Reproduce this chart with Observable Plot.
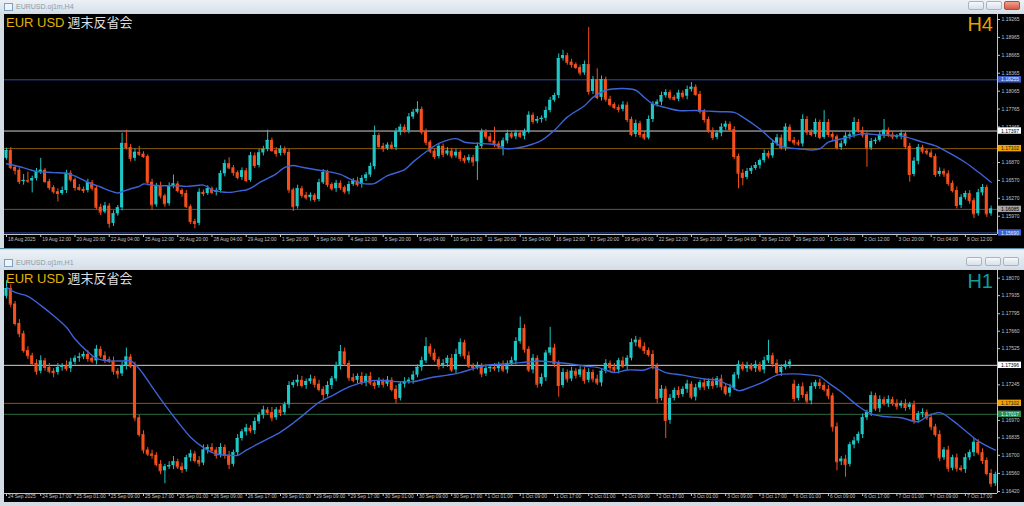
<!DOCTYPE html>
<html><head><meta charset="utf-8">
<script src="https://cdn.jsdelivr.net/npm/d3@7"></script>
<script src="https://cdn.jsdelivr.net/npm/@observablehq/plot@0.6"></script>
<style>
html,body{margin:0;padding:0;width:1024px;height:506px;overflow:hidden;background:#d3dbe4;font-family:"Liberation Sans",Arial,sans-serif;}
.tbar{position:absolute;left:0;width:1024px;background:linear-gradient(#ecf1f6,#d6dfe9);}
.ttl{position:absolute;left:16px;font-size:7px;line-height:8px;color:#8e9aa8;}
.icon{position:absolute;left:4px;width:7px;height:6px;border:1px solid #7f9fbf;background:#eef4fb;}
.btn{position:absolute;width:16px;height:9px;border:1px solid #a7b4c2;border-radius:2px;background:linear-gradient(#f6f8fb,#d8e0e9);box-sizing:border-box;}
.chart{position:absolute;left:4px;width:1020px;background:#000;}
.sep{position:absolute;left:0;width:1024px;height:1px;background:#5d8a9e;}
.hdr{position:absolute;left:6px;white-space:nowrap;line-height:13px;}
.eu{font-size:13px;color:#e3b20a;font-family:"Liberation Sans",Arial,sans-serif;}
.jp{font-size:13px;color:#dcdcdc;font-family:"Noto Sans CJK JP",sans-serif;margin-left:3px;}
.tf{position:absolute;font-size:20px;line-height:20px;font-family:"Liberation Sans",Arial,sans-serif;}
</style></head>
<body>
<div class="tbar" style="top:0;height:13px">
  <div class="icon" style="top:3px"></div><span class="ttl" style="top:3px">EURUSD.oj1m,H4</span>
  <div class="btn" style="left:968px;top:1px"></div>
  <div class="btn" style="left:986px;top:1px"></div>
  <div class="btn" style="left:1004px;top:1px;background:linear-gradient(#f0a090,#d45a44);border-color:#b04a3a"></div>
</div>
<div id="top" class="chart" style="top:14px;height:234px"></div>
<div class="sep" style="top:248px"></div>
<div class="tbar" style="top:250px;height:19px">
  <div class="icon" style="top:9px"></div><span class="ttl" style="top:9px">EURUSD.oj1m,H1</span>
  <div class="btn" style="left:966px;top:7px"></div>
  <div class="btn" style="left:985px;top:7px"></div>
  <div class="btn" style="left:1003px;top:7px"></div>
</div>
<div id="bot" class="chart" style="top:270px;height:232px"></div>
<div class="hdr" style="top:15px"><span class="eu">EUR USD</span><span class="jp">週末反省会</span></div>
<div class="hdr" style="top:271px"><span class="eu">EUR USD</span><span class="jp">週末反省会</span></div>
<div class="tf" style="top:14px;right:31px;color:#e89f00">H4</div>
<div class="tf" style="top:271px;right:31px;color:#139c9c">H1</div>
<script>
// ---------- H4 panel data ----------
const h4FirstOpen = 1.1694;
const h4Close = [
 1.1707,1.1679,1.1674,1.1655,1.1657,1.1656,1.1660,1.1672,1.1674,1.1655,
 1.1645,1.1638,1.1635,1.1640,1.1669,1.1658,1.1645,1.1642,1.1640,1.1653,
 1.1644,1.1612,1.1604,1.1614,1.1585,1.1601,1.1611,1.1719,1.1712,1.1694,
 1.1704,1.1701,1.1697,1.1654,1.1616,1.1648,1.1631,1.1618,1.1648,1.1651,
 1.1640,1.1635,1.1613,1.1588,1.1585,1.1637,1.1635,1.1643,1.1637,1.1640,
 1.1668,1.1685,1.1678,1.1670,1.1662,1.1673,1.1657,1.1698,1.1682,1.1703,
 1.1709,1.1724,1.1707,1.1702,1.1709,1.1704,1.1641,1.1613,1.1643,1.1632,
 1.1628,1.1632,1.1625,1.1653,1.1670,1.1650,1.1643,1.1652,1.1645,1.1638,
 1.1650,1.1656,1.1650,1.1660,1.1666,1.1680,1.1732,1.1714,1.1710,1.1716,
 1.1712,1.1738,1.1746,1.1740,1.1763,1.1771,1.1776,1.1738,1.1721,1.1706,
 1.1697,1.1714,1.1701,1.1706,1.1698,1.1704,1.1694,1.1690,1.1695,1.1688,
 1.1714,1.1738,1.1730,1.1723,1.1718,1.1713,1.1723,1.1735,1.1730,1.1736,
 1.1731,1.1738,1.1766,1.1756,1.1759,1.1761,1.1774,1.1791,1.1799,1.1861,
 1.1866,1.1855,1.1851,1.1846,1.1837,1.1851,1.1806,1.1826,1.1796,1.1826,
 1.1793,1.1784,1.1779,1.1776,1.1783,1.1759,1.1734,1.1752,1.1734,1.1728,
 1.1759,1.1784,1.1788,1.1799,1.1804,1.1796,1.1793,1.1803,1.1798,1.1809,
 1.1813,1.1801,1.1773,1.1759,1.1740,1.1729,1.1736,1.1746,1.1751,1.1742,
 1.1697,1.1669,1.1662,1.1672,1.1677,1.1682,1.1690,1.1702,1.1698,1.1719,
 1.1728,1.1712,1.1746,1.1724,1.1720,1.1718,1.1759,1.1738,1.1734,1.1754,
 1.1729,1.1754,1.1734,1.1730,1.1712,1.1718,1.1731,1.1733,1.1754,1.1740,
 1.1733,1.1711,1.1722,1.1724,1.1733,1.1741,1.1733,1.1730,1.1731,1.1735,
 1.1714,1.1667,1.1689,1.1712,1.1706,1.1703,1.1697,1.1667,1.1672,1.1668,
 1.1652,1.1640,1.1615,1.1628,1.1635,1.1623,1.1601,1.1636,1.1645,1.1601,
 1.1609];
// upper / lower wick lengths beyond the body, in pips
const h4WickUp = [
 4,5,3,4,10,14,4,5,20,3, 4,3,5,6,5,4,3,5,4,6, 4,3,5,6,4,5,4,17,22,5,
 6,10,4,3,5,4,6,3,5,15, 4,3,5,3,4,6,4,5,3,4, 5,6,10,4,3,5,4,6,5,6,
 5,17,4,5,6,4,5,3,6,4, 5,4,3,6,5,4,3,5,4,3, 5,4,6,5,4,6,16,4,5,4,
 5,6,5,4,6,5,13,4,5,3, 4,5,4,6,4,5,3,4,5,4, 6,5,4,6,23,4,5,6,4,5,
 4,5,6,4,5,4,6,5,4,8, 9,4,5,3,4,6,62,5,18,6, 4,5,3,4,6,5,4,6,4,5,
 6,5,4,6,5,4,3,5,4,6, 8,4,5,3,4,5,4,6,5,4, 5,4,6,5,4,5,3,6,4,5,
 6,5,6,4,5,4,8,5,4,6, 4,20,5,4,3,5,6,4,8,5, 6,4,5,4,6,18,4,5,3,6,
 4,5,6,5,4,3,5,4,6,4, 5,4,6,5,4,5,4,6,5,4, 5];
const h4WickDown = [
 3,4,8,5,6,4,20,4,5,3, 5,4,14,3,5,4,6,3,5,4, 5,4,6,3,8,5,4,5,4,6,
 5,4,3,6,9,4,5,6,4,5, 4,6,3,5,9,4,5,3,4,6, 4,5,3,6,4,5,4,3,5,4,
 5,4,3,6,4,5,6,8,4,5, 4,6,5,4,3,5,4,6,5,4, 5,3,4,6,5,4,5,4,6,3,
 4,5,6,4,5,4,3,5,6,4, 5,4,6,3,5,4,6,5,4,8, 31,4,5,3,6,4,15,5,4,5,
 4,6,3,5,4,6,5,4,3,5, 4,5,6,3,5,4,6,5,4,6, 5,4,3,6,4,5,4,5,6,4,
 3,5,4,6,4,5,3,4,5,6, 4,3,5,6,4,5,4,6,5,4, 5,26,14,4,5,3,6,4,5,4,
 5,4,6,3,5,4,5,6,4,5, 4,3,5,6,4,5,4,6,5,4, 5,32,4,5,3,6,4,5,4,6,
 5,13,4,6,5,4,3,5,4,6, 5,4,6,5,4,6,8,4,5,6, 4];
// moving average line: [bar, price]
const h4MA = [[0,1.1685],[2,1.1682],[5,1.1676],[7,1.1672],[9,1.1671],[11,1.1670],[14,1.1669],[15,1.1667],[17,1.1661],[20,1.1651],[22,1.1646],[24,1.1640],[26,1.1636],[27,1.1638],[29,1.1643],[31,1.1647],[32,1.1651],[34,1.1649],[36,1.1648],[38,1.1648],[40,1.1648],[42,1.1647],[45,1.1649],[46,1.1649],[47,1.1646],[48,1.1641],[50,1.1638],[52,1.1637],[55,1.1640],[56,1.1641],[58,1.1648],[59,1.1653],[63,1.1668],[65,1.1679],[67,1.1682],[69,1.1679],[73,1.1674],[75,1.1672],[78,1.1667],[80,1.1660],[83,1.1652],[85,1.1651],[86,1.1652],[89,1.1665],[93,1.1675],[95,1.1688],[99,1.1710],[101,1.1719],[105,1.1727],[107,1.1721],[110,1.1719],[113,1.1718],[115,1.1715],[116,1.1711],[119,1.1711],[123,1.1718],[125,1.1724],[128,1.1741],[131,1.1763],[135,1.1782],[137,1.1796],[140,1.1808],[144,1.1811],[147,1.1808],[149,1.1796],[151,1.1785],[154,1.1779],[157,1.1774],[161,1.1774],[164,1.1773],[167,1.1772],[170,1.1771],[172,1.1763],[176,1.1743],[179,1.1724],[181,1.1714],[185,1.1710],[188,1.1708],[190,1.1710],[192,1.1721],[196,1.1728],[200,1.1735],[204,1.1733],[208,1.1732],[210,1.1730],[214,1.1721],[217,1.1715],[220,1.1704],[224,1.1687],[227,1.1671],[230,1.1654]];
const h4PriceTicks = [1.19265,1.18965,1.18665,1.18365,1.18065,1.17765,1.17465,1.16870,1.16570,1.16270,1.15970];
const h4TimeLabels = ["18 Aug 2025","19 Aug 12:00","20 Aug 20:00","22 Aug 04:00","25 Aug 12:00","26 Aug 20:00","28 Aug 04:00","29 Aug 12:00","1 Sep 20:00","3 Sep 04:00","4 Sep 12:00","5 Sep 20:00","9 Sep 04:00","10 Sep 12:00","11 Sep 20:00","15 Sep 04:00","16 Sep 12:00","17 Sep 20:00","19 Sep 04:00","22 Sep 12:00","23 Sep 20:00","25 Sep 04:00","26 Sep 12:00","29 Sep 20:00","1 Oct 04:00","2 Oct 12:00","3 Oct 20:00","7 Oct 04:00","8 Oct 12:00"];
const h4LevelPrices = [1.18255,1.17397,1.17102,1.16085,1.15690];
const h4LevelKinds = ["blue","white","orange","bid","blue"];

// ---------- H1 panel data ----------
const h1FirstOpen = 1.1793;
const h1Close = [
 1.1799,1.1787,1.1772,1.1764,1.1751,1.1747,1.1741,1.1735,1.1743,1.1738,
 1.1735,1.1734,1.1738,1.1739,1.1737,1.1742,1.1745,1.1746,1.1748,1.1745,
 1.1743,1.1752,1.1747,1.1744,1.1743,1.1735,1.1733,1.1739,1.1746,1.1739,
 1.1699,1.1686,1.1674,1.1671,1.1670,1.1663,1.1658,1.1661,1.1662,1.1665,
 1.1661,1.1659,1.1668,1.1671,1.1666,1.1664,1.1674,1.1676,1.1674,1.1670,
 1.1676,1.1670,1.1663,1.1672,1.1683,1.1688,1.1691,1.1689,1.1696,1.1701,
 1.1705,1.1703,1.1699,1.1705,1.1703,1.1709,1.1724,1.1726,1.1728,1.1724,
 1.1727,1.1729,1.1725,1.1721,1.1717,1.1724,1.1729,1.1739,1.1750,1.1741,
 1.1730,1.1728,1.1731,1.1726,1.1731,1.1726,1.1724,1.1727,1.1725,1.1728,
 1.1721,1.1714,1.1725,1.1727,1.1728,1.1732,1.1738,1.1743,1.1754,1.1749,
 1.1744,1.1739,1.1741,1.1745,1.1736,1.1748,1.1757,1.1747,1.1739,1.1738,
 1.1739,1.1733,1.1737,1.1738,1.1737,1.1740,1.1736,1.1741,1.1743,1.1758,
 1.1768,1.1752,1.1736,1.1745,1.1725,1.1730,1.1749,1.1753,1.1741,1.1724,
 1.1734,1.1729,1.1735,1.1732,1.1736,1.1728,1.1734,1.1729,1.1726,1.1735,
 1.1741,1.1738,1.1736,1.1743,1.1739,1.1745,1.1757,1.1759,1.1754,1.1751,
 1.1748,1.1739,1.1714,1.1721,1.1697,1.1714,1.1720,1.1717,1.1721,1.1725,
 1.1715,1.1722,1.1726,1.1723,1.1727,1.1724,1.1729,1.1723,1.1718,1.1722,
 1.1732,1.1740,1.1737,1.1739,1.1737,1.1740,1.1736,1.1743,1.1747,1.1741,
 1.1734,1.1738,1.1740,1.1742,1.1714,1.1723,1.1717,1.1712,1.1723,1.1726,
 1.1724,1.1721,1.1716,1.1692,1.1665,1.1667,1.1663,1.1678,1.1681,1.1686,
 1.1699,1.1703,1.1716,1.1706,1.1713,1.1710,1.1713,1.1710,1.1708,1.1710,
 1.1707,1.1709,1.1697,1.1702,1.1703,1.1699,1.1692,1.1686,1.1668,1.1674,
 1.1660,1.1668,1.1660,1.1659,1.1668,1.1672,1.1680,1.1672,1.1666,1.1656,
 1.1648,1.1655];
const h1Gaps = [[184,1.1725]]; // Monday opening gap: [bar, open]
const h1WickUp = [
 6,3,2,3,2,3,2,3,4,2, 3,2,3,2,4,3,2,3,2,3, 2,3,2,3,2,3,2,3,7,2,
 3,2,3,2,3,2,3,2,3,4, 2,3,2,3,2,3,4,2,3,2, 3,2,3,2,3,2,3,2,3,2,
 3,2,4,2,3,2,3,2,4,3, 2,3,2,3,2,3,2,3,5,3, 2,3,2,3,2,3,2,3,2,3,
 2,3,2,3,2,3,2,3,7,2, 3,2,3,2,3,4,3,2,3,2, 3,2,3,2,3,2,3,2,3,3,
 9,3,2,3,2,3,2,16,3,2, 3,2,3,2,3,2,3,2,3,2, 3,2,3,2,3,2,3,3,2,3,
 2,3,2,3,2,3,2,3,2,3, 2,3,2,3,2,3,2,3,2,3, 2,3,2,3,2,3,2,3,12,2,
 3,2,3,2,3,2,3,2,3,2, 3,2,3,2,3,2,3,2,3,2, 3,2,3,2,3,2,3,2,3,2,
 3,2,3,2,3,2,3,2,3,2, 3,2,3,2,3,2,3,2,3,2, 3,2];
const h1WickDown = [
 2,3,2,3,2,3,2,3,2,3, 2,4,2,3,2,3,2,3,2,3, 2,3,2,3,2,3,4,2,3,2,
 3,2,3,2,3,2,3,10,2,3, 2,3,2,3,2,3,2,3,2,3, 2,3,4,2,3,2,3,2,3,2,
 3,2,3,2,3,2,3,2,3,2, 3,2,3,2,4,2,3,2,3,2, 3,2,3,2,3,2,3,2,3,2,
 2,4,2,3,2,3,2,3,2,3, 2,3,2,3,2,3,2,3,2,3, 2,3,2,3,2,3,2,3,2,3,
 2,3,2,3,3,2,3,2,3,9, 2,3,2,3,2,3,2,3,2,3, 2,3,2,3,2,3,2,3,2,3,
 2,3,4,2,14,3,2,3,2,3, 2,3,2,3,2,3,2,3,2,3, 2,3,2,3,2,3,2,3,2,3,
 2,3,2,3,3,2,3,2,3,2, 3,2,3,4,7,3,10,2,3,2, 3,2,3,2,3,2,3,2,3,2,
 3,2,3,2,3,2,3,2,3,2, 3,2,3,2,3,2,3,2,3,2, 3,2];
const h1MA = [[0,1.1800],[2,1.1796],[5,1.1793],[8,1.1786],[11,1.1778],[14,1.1769],[16,1.1760],[19,1.1750],[21,1.1745],[24,1.1743],[27,1.1743],[29,1.1743],[31,1.1737],[34,1.1723],[37,1.1709],[40,1.1696],[43,1.1684],[46,1.1676],[49,1.1671],[52,1.1670],[54,1.1670],[56,1.1674],[60,1.1681],[64,1.1688],[67,1.1695],[70,1.1703],[73,1.1711],[76,1.1716],[80,1.1723],[84,1.1727],[87,1.1728],[91,1.1727],[95,1.1727],[99,1.1730],[103,1.1732],[106,1.1734],[110,1.1738],[113,1.1740],[118,1.1741],[121,1.1742],[124,1.1743],[128,1.1742],[131,1.1741],[135,1.1739],[138,1.1738],[140,1.1736],[142,1.1734],[145,1.1736],[149,1.1736],[151,1.1738],[154,1.1734],[158,1.1732],[163,1.1729],[166,1.1728],[169,1.1724],[171,1.1720],[174,1.1723],[177,1.1727],[180,1.1732],[184,1.1733],[188,1.1732],[190,1.1731],[192,1.1726],[195,1.1719],[199,1.1708],[202,1.1702],[205,1.1700],[209,1.1699],[213,1.1696],[215,1.1700],[218,1.1703],[221,1.1697],[224,1.1689],[227,1.1681],[231,1.1674]];
const h1PriceTicks = [1.18070,1.17935,1.17795,1.17660,1.17525,1.17245,1.16970,1.16835,1.16700,1.16560,1.16420];
const h1TimeLabels = ["24 Sep 2025","24 Sep 17:00","25 Sep 01:00","25 Sep 09:00","25 Sep 17:00","26 Sep 01:00","26 Sep 09:00","26 Sep 17:00","29 Sep 01:00","29 Sep 09:00","29 Sep 17:00","30 Sep 01:00","30 Sep 09:00","30 Sep 17:00","1 Oct 01:00","1 Oct 09:00","1 Oct 17:00","2 Oct 01:00","2 Oct 09:00","2 Oct 17:00","3 Oct 01:00","3 Oct 09:00","3 Oct 17:00","6 Oct 01:00","6 Oct 09:00","6 Oct 17:00","7 Oct 01:00","7 Oct 09:00","7 Oct 17:00"];
const h1LevelPrices = [1.17396,1.17102,1.17017];
const h1LevelKinds = ["white","orange","green"];

// ---------- styles ----------
const CYAN = "#1fc6c6", ORANGE = "#f5501c", MA_BLUE = "#3c63d8", AXIS = "#c4c4c4";
const levelStyle = {
  blue:   {line:"#2f4fa8", box:"#3c60d0", text:"#e6ecff"},
  white:  {line:"#d0d0d0", box:"#ffffff", text:"#000000"},
  orange: {line:"#8a5c08", box:"#f0a20c", text:"#2a1800"},
  bid:    {line:"#5a5a5a", box:"#a6a6a6", text:"#000000"},
  green:  {line:"#2c6a40", box:"#2e8b57", text:"#dfffea"}
};

function drawPanel(cfg) {
  const {closes, firstOpen, gaps, up, dn, ma, yTicks, xLabels, levelPrices, levelKinds, yDomain, height, marginBottom, labelDy} = cfg;
  const gapMap = new Map(gaps);
  const bars = closes.map((c, i) => {
    const o = gapMap.has(i) ? gapMap.get(i) : (i === 0 ? firstOpen : closes[i - 1]);
    return {i, o, c, hi: Math.max(o, c) + (up[i] ?? 0) / 1e4, lo: Math.min(o, c) - (dn[i] ?? 0) / 1e4, bull: c >= o};
  });
  const W = 1020, MR = 27;
  const xDom = [-0.47, 231.5];
  const pxBar = (W - MR) / (xDom[1] - xDom[0]);
  const pxPrice = (height - marginBottom) / (yDomain[1] - yDomain[0]);
  const levels = levelPrices.map((p, k) => ({price: p, label: p.toFixed(5), ...levelStyle[levelKinds[k]]}));
  const xTicks = xLabels.map((label, k) => ({i: 8 * k, label}));
  const col = d => d.bull ? CYAN : ORANGE;
  const hw = 0.36;
  return Plot.plot({
    width: W, height, marginTop: 0, marginLeft: 0, marginRight: MR, marginBottom,
    x: {domain: xDom, label: null},
    y: {domain: yDomain, label: null},
    color: {type: "identity"},
    style: {background: "#000", color: AXIS, fontFamily: "'Liberation Sans', Arial, sans-serif"},
    marks: [
      Plot.ruleY(levels, {y: "price", stroke: "line"}),
      Plot.ruleX(bars, {x: "i", y1: "lo", y2: "hi", stroke: col}),
      Plot.rect(bars, {x1: d => d.i - hw, x2: d => d.i + hw, y1: "o", y2: "c", fill: col}),
      Plot.ruleY(bars, {y: "c", x1: d => d.i - hw, x2: d => d.i + hw, stroke: col}),
      Plot.line(ma, {x: d => d[0], y: d => d[1], stroke: MA_BLUE, strokeWidth: 1.4, curve: "catmull-rom"}),
      Plot.ruleX([xDom[1]], {stroke: AXIS}),
      Plot.ruleY([yDomain[0]], {stroke: AXIS}),
      Plot.axisY({anchor: "right", ticks: yTicks, tickFormat: d => d.toFixed(5), tickSize: 2, tickPadding: 2, fontSize: 5, label: null}),
      Plot.axisX({ticks: xTicks.map(d => d.i), tickFormat: () => "", tickSize: 3, label: null}),
      Plot.text(xTicks, {x: "i", text: "label", frameAnchor: "bottom", dy: labelDy, dx: 1.5, textAnchor: "start", fontSize: 4.9, fill: AXIS}),
      Plot.rect(levels, {x1: () => xDom[1] + 1 / pxBar, x2: () => xDom[1] + 24 / pxBar, y1: d => d.price - 3.2 / pxPrice, y2: d => d.price + 3.2 / pxPrice, fill: "box"}),
      Plot.text(levels, {x: () => xDom[1], y: "price", text: "label", dx: 3.5, textAnchor: "start", fontSize: 5, fill: "text"})
    ]
  });
}

document.getElementById("top").append(drawPanel({
  closes: h4Close, firstOpen: h4FirstOpen, gaps: [], up: h4WickUp, dn: h4WickDown, ma: h4MA,
  yTicks: h4PriceTicks, xLabels: h4TimeLabels, levelPrices: h4LevelPrices, levelKinds: h4LevelKinds,
  yDomain: [1.15664, 1.19349], height: 234, marginBottom: 14, labelDy: 6.5
}));
document.getElementById("bot").append(drawPanel({
  closes: h1Close, firstOpen: h1FirstOpen, gaps: h1Gaps, up: h1WickUp, dn: h1WickDown, ma: h1MA,
  yTicks: h1PriceTicks, xLabels: h1TimeLabels, levelPrices: h1LevelPrices, levelKinds: h1LevelKinds,
  yDomain: [1.164045, 1.181296], height: 232, marginBottom: 9, labelDy: 4.8
}));
</script>
</body></html>
